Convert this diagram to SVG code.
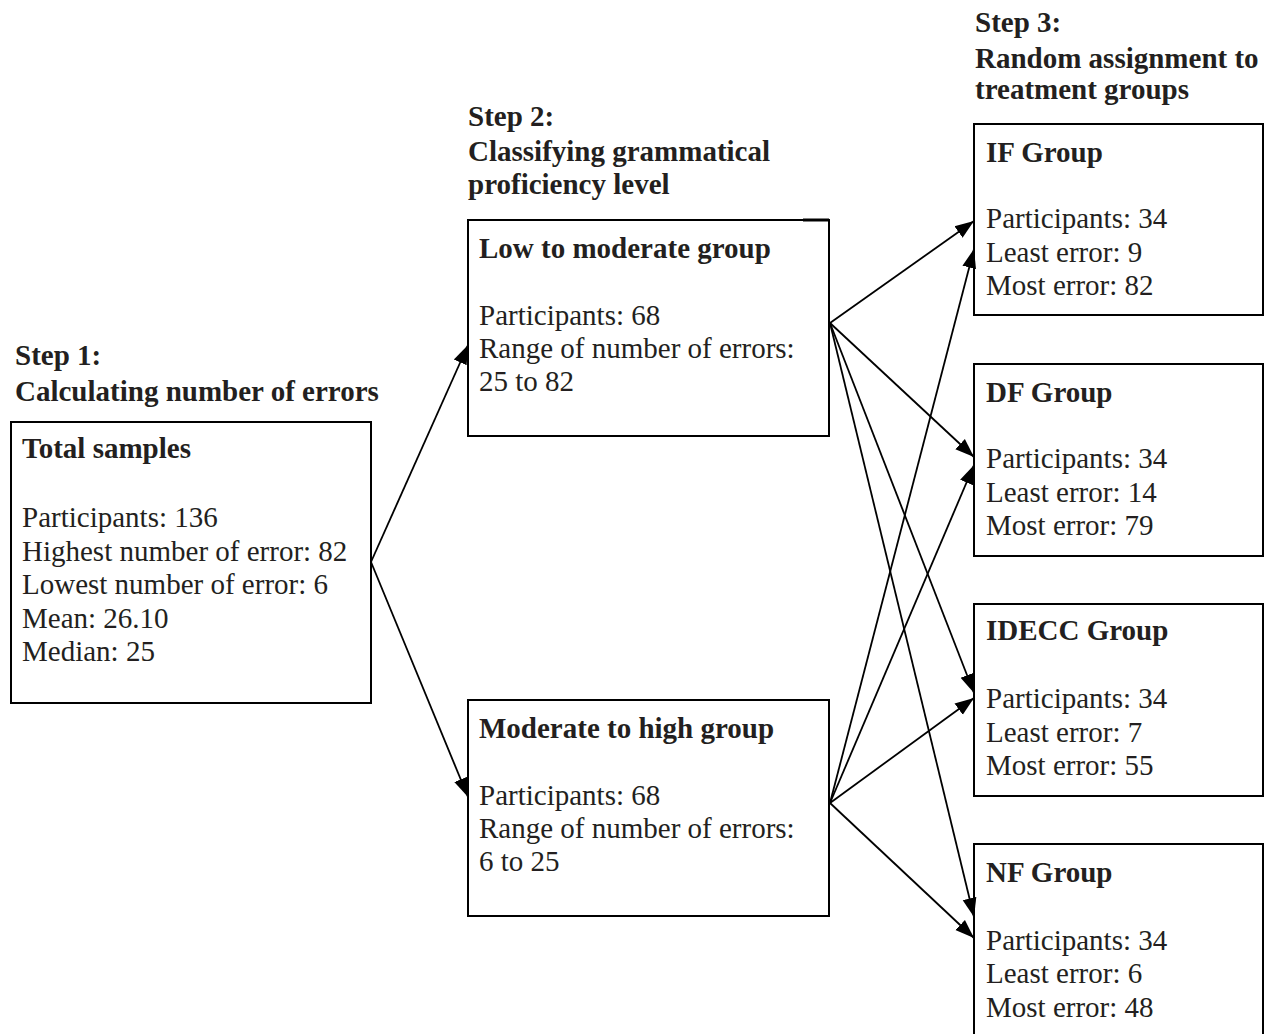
<svg xmlns="http://www.w3.org/2000/svg" width="1271" height="1034" viewBox="0 0 1271 1034">
<defs>
<style>
text{font-family:"Liberation Serif","Times New Roman",serif;font-size:29px;fill:#231f20}
.b{font-weight:bold}
.box{fill:#fff;stroke:#000;stroke-width:2}
.con line{stroke:#000;stroke-width:1.8}
</style>
<marker id="ah" markerUnits="userSpaceOnUse" viewBox="0 0 20 16" markerWidth="20" markerHeight="16" refX="19" refY="8" orient="auto">
<path d="M0,1 L19,8 L0,15 z" fill="#000"/>
</marker>
</defs>
<rect width="1271" height="1034" fill="#fff"/>

<g id="step1">
<text class="b" x="15" y="365">Step 1:</text>
<text class="b" x="15" y="401">Calculating number of errors</text>
</g>
<g id="step2">
<text class="b" x="468" y="126">Step 2:</text>
<text class="b" x="468" y="161">Classifying grammatical</text>
<text class="b" x="468" y="194">proficiency level</text>
</g>
<g id="step3">
<text class="b" x="975" y="32">Step 3:</text>
<text class="b" x="975" y="68">Random assignment to</text>
<text class="b" x="975" y="99">treatment groups</text>
</g>

<g id="total">
<rect class="box" x="11" y="422" width="360" height="281"/>
<text class="b" x="22" y="458">Total samples</text>
<text x="22" y="527">Participants: 136</text>
<text x="22" y="561">Highest number of error: 82</text>
<text x="22" y="594">Lowest number of error: 6</text>
<text x="22" y="628">Mean: 26.10</text>
<text x="22" y="661">Median: 25</text>
</g>

<g id="lowmod">
<rect class="box" x="468" y="220" width="361" height="216"/>
<line x1="803" y1="220" x2="829" y2="220" stroke="#000" stroke-width="3"/>
<text class="b" x="479" y="258">Low to moderate group</text>
<text x="479" y="325">Participants: 68</text>
<text x="479" y="358">Range of number of errors:</text>
<text x="479" y="391">25 to 82</text>
</g>

<g id="modhigh">
<rect class="box" x="468" y="700" width="361" height="216"/>
<text class="b" x="479" y="738">Moderate to high group</text>
<text x="479" y="805">Participants: 68</text>
<text x="479" y="838">Range of number of errors:</text>
<text x="479" y="871">6 to 25</text>
</g>

<g id="if">
<rect class="box" x="974" y="124" width="289" height="191"/>
<text class="b" x="986" y="162">IF Group</text>
<text x="986" y="228">Participants: 34</text>
<text x="986" y="262">Least error: 9</text>
<text x="986" y="295">Most error: 82</text>
</g>

<g id="df">
<rect class="box" x="974" y="364" width="289" height="192"/>
<text class="b" x="986" y="402">DF Group</text>
<text x="986" y="468">Participants: 34</text>
<text x="986" y="502">Least error: 14</text>
<text x="986" y="535">Most error: 79</text>
</g>

<g id="idecc">
<rect class="box" x="974" y="604" width="289" height="192"/>
<text class="b" x="986" y="640">IDECC Group</text>
<text x="986" y="708">Participants: 34</text>
<text x="986" y="742">Least error: 7</text>
<text x="986" y="775">Most error: 55</text>
</g>

<g id="nf">
<rect class="box" x="974" y="844" width="289" height="200"/>
<text class="b" x="986" y="882">NF Group</text>
<text x="986" y="950">Participants: 34</text>
<text x="986" y="983">Least error: 6</text>
<text x="986" y="1017">Most error: 48</text>
</g>

<g id="connectors" class="con">
<line x1="371" y1="562" x2="468" y2="345" marker-end="url(#ah)"/>
<line x1="371" y1="562" x2="468" y2="797" marker-end="url(#ah)"/>
<line x1="830" y1="323" x2="974" y2="221" marker-end="url(#ah)"/>
<line x1="830" y1="323" x2="974" y2="457" marker-end="url(#ah)"/>
<line x1="830" y1="323" x2="974" y2="693" marker-end="url(#ah)"/>
<line x1="830" y1="323" x2="974" y2="917" marker-end="url(#ah)"/>
<line x1="830" y1="803" x2="974" y2="249" marker-end="url(#ah)"/>
<line x1="830" y1="803" x2="974" y2="465" marker-end="url(#ah)"/>
<line x1="830" y1="803" x2="974" y2="698" marker-end="url(#ah)"/>
<line x1="830" y1="803" x2="974" y2="938" marker-end="url(#ah)"/>
</g>
</svg>
